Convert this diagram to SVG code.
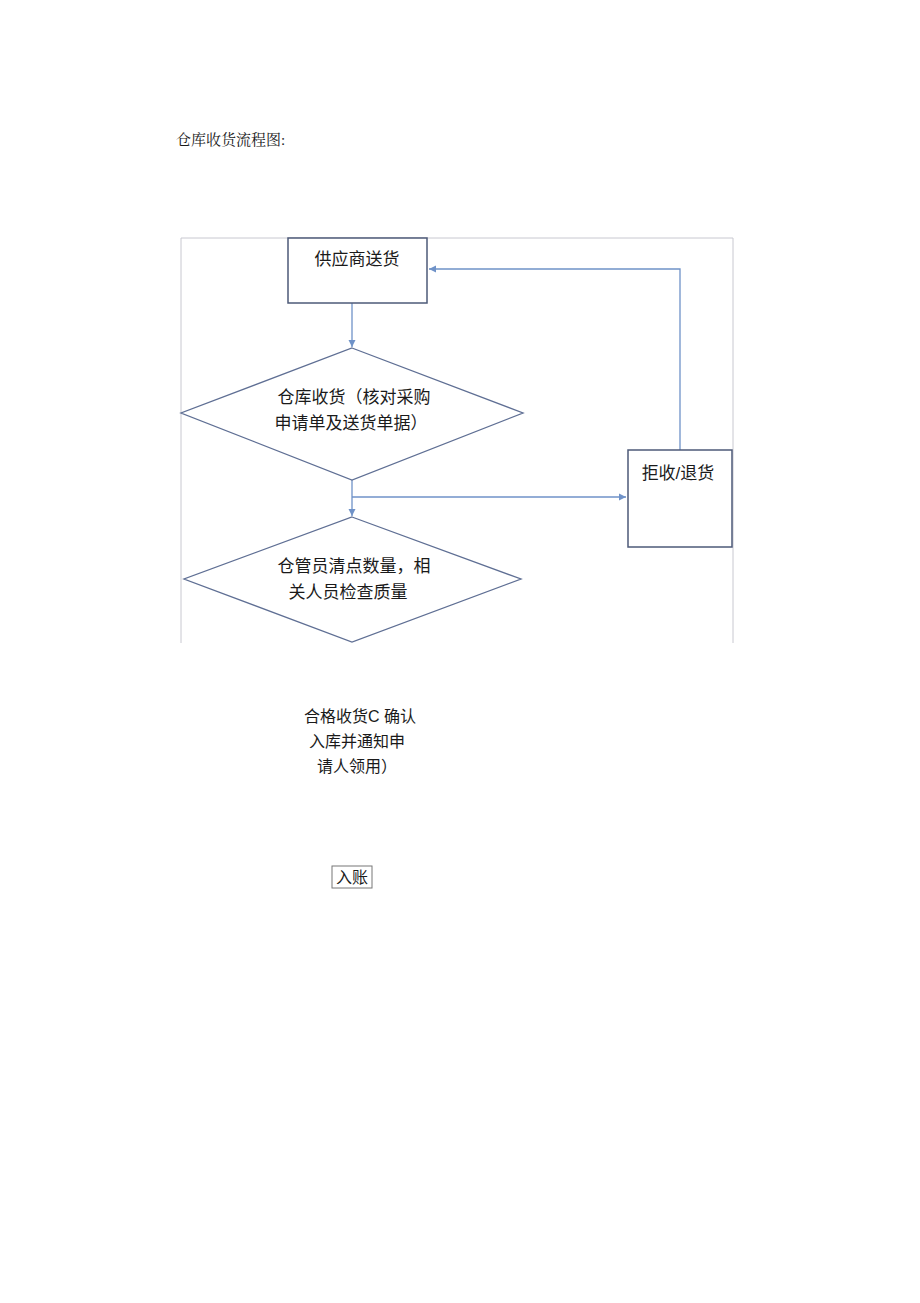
<svg xmlns="http://www.w3.org/2000/svg" width="920" height="1303" viewBox="0 0 920 1303">
<style>
.frame{fill:none;stroke:#c8c8d0;stroke-width:1}
.box{fill:#fff;stroke:#4d5a78;stroke-width:1.5}
.dia{fill:#fff;stroke:#5f6f94;stroke-width:1.3}
.con{fill:none;stroke:#6f92c8;stroke-width:1.3}
.t{font-family:"Liberation Sans","Noto Sans CJK SC",sans-serif;font-size:17px;fill:#1a1a1a}
.tl{font-family:"Liberation Sans","Noto Sans CJK SC",sans-serif;font-size:16px;fill:#1a1a1a}
.ts{font-family:"Liberation Serif","Noto Serif CJK SC","Noto Sans CJK SC",serif;font-size:15px;fill:#1a1a1a}
</style>
<defs>
<marker id="ah" markerWidth="8" markerHeight="8" refX="7" refY="4" orient="auto" markerUnits="userSpaceOnUse">
<path d="M0,0.5 L7,4 L0,7.5 Z" fill="#6f92c8"/>
</marker>
</defs>
<rect width="920" height="1303" fill="#fff"/>
<text class="ts" x="176" y="145">仓库收货流程图:</text>
<path class="frame" d="M181,643 V238 H733 V643"/>
<g id="connectors">
<line class="con" x1="352" y1="303" x2="352" y2="347" marker-end="url(#ah)"/>
<line class="con" x1="352" y1="480" x2="352" y2="516" marker-end="url(#ah)"/>
<line class="con" x1="352" y1="497" x2="626" y2="497" marker-end="url(#ah)"/>
<polyline class="con" points="680,450 680,269 429,269" marker-end="url(#ah)"/>
</g>
<g id="supplier">
<rect class="box" x="288" y="238" width="139" height="65"/>
<text class="t" x="357" y="265" text-anchor="middle">供应商送货</text>
</g>
<g id="receive">
<polygon class="dia" points="352,348 523,413 352,480 181,413"/>
<text class="t" x="354" y="403" text-anchor="middle">仓库收货（核对采购</text>
<text class="t" x="351" y="429" text-anchor="middle">申请单及送货单据）</text>
</g>
<g id="check">
<polygon class="dia" points="352,517 521,579 352,642 184,579"/>
<text class="t" x="354" y="572" text-anchor="middle">仓管员清点数量，相</text>
<text class="t" x="348" y="598" text-anchor="middle">关人员检查质量</text>
</g>
<g id="reject">
<rect class="box" x="628" y="450" width="104" height="97"/>
<text class="t" x="678" y="479" text-anchor="middle">拒收/退货</text>
</g>
<g id="accept">
<text class="tl" x="360" y="722" text-anchor="middle">合格收货C 确认</text>
<text class="tl" x="357" y="747" text-anchor="middle">入库并通知申</text>
<text class="tl" x="357" y="772" text-anchor="middle">请人领用）</text>
</g>
<g id="account">
<rect x="332" y="866" width="40" height="22" fill="#fff" stroke="#777" stroke-width="1"/>
<text class="tl" x="352" y="883" text-anchor="middle">入账</text>
</g>
</svg>
